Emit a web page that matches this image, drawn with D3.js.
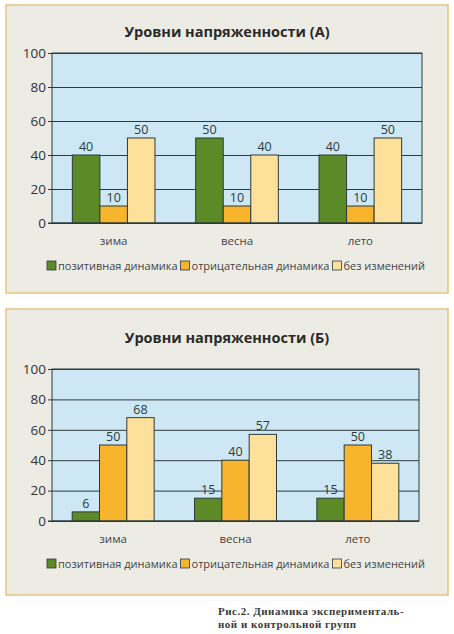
<!DOCTYPE html>
<html>
<head>
<meta charset="utf-8">
<script src="https://cdn.jsdelivr.net/npm/d3@7"></script>
<style>
  body { margin: 0; background: #fff; }
  svg { display: block; }
</style>
</head>
<body>
<div id="chart"></div>
<script>
// Data
const seasons = ["зима", "весна", "лето"];
const seriesNames = ["позитивная динамика", "отрицательная динамика", "без изменений"];
const valuesA = [[40, 10, 50], [50, 10, 40], [40, 10, 50]];
const valuesB = [[6, 50, 68], [15, 40, 57], [15, 50, 38]];
const yTicks = [0, 20, 40, 60, 80, 100];
const titleA = "Уровни напряженности (А)";
const titleB = "Уровни напряженности (Б)";
const captionLines = ["Рис.2. Динамика эксперименталь-", "ной и контрольной групп"];

const colors = ["#5b8a26", "#f7b52e", "#fde19a"];
const font = "'Open Sans', 'Noto Sans', sans-serif";

const svg = d3.select("#chart").append("svg")
    .attr("width", 454)
    .attr("height", 634);

function drawPanel(cfg) {
    const g = svg.append("g");

    // panel frame
    g.append("rect")
        .attr("x", cfg.panel.x).attr("y", cfg.panel.y)
        .attr("width", cfg.panel.w).attr("height", cfg.panel.h)
        .attr("fill", "#edece4")
        .attr("stroke", "#e8c47c")
        .attr("stroke-width", 1.5);

    g.append("text")
        .attr("x", 227).attr("y", cfg.titleY)
        .attr("text-anchor", "middle")
        .style("font-family", font)
        .style("font-size", "14.5px")
        .style("font-weight", "bold")
        .style("fill", "#2a2a2a")
        .text(cfg.title);

    const x0 = d3.scaleBand().domain(seasons).range([cfg.left, cfg.right]).paddingInner(0.33).paddingOuter(0.165);
    const x1 = d3.scaleBand().domain(d3.range(3)).range([0, x0.bandwidth()]);
    const y = d3.scaleLinear().domain([0, 100]).range([cfg.bottom, cfg.top]);

    // plot background
    g.append("rect")
        .attr("x", cfg.left).attr("y", cfg.top)
        .attr("width", cfg.right - cfg.left).attr("height", cfg.bottom - cfg.top)
        .attr("fill", "#cde7f4")
        .attr("stroke", "#2d3a3a")
        .attr("stroke-width", 1);

    // gridlines + y labels
    const yAxis = g.append("g")
        .attr("transform", `translate(${cfg.left},0)`)
        .call(d3.axisLeft(y).tickValues(yTicks).tickSize(-(cfg.right - cfg.left)).tickPadding(6));
    yAxis.select(".domain").remove();
    yAxis.selectAll(".tick line").attr("stroke", "#2d3a3a").attr("stroke-width", 1);
    yAxis.selectAll(".tick text")
        .style("font-family", font)
        .style("font-size", "13.5px")
        .style("fill", "#333");
    // little outside tick marks
    yAxis.selectAll(".tick").append("line")
        .attr("x1", -4).attr("x2", 0)
        .attr("stroke", "#2d3a3a");

    const groups = g.selectAll(".grp")
        .data(cfg.values)
        .enter().append("g")
        .attr("transform", (d, i) => `translate(${x0(seasons[i])},0)`);

    groups.selectAll("rect")
        .data(d => d)
        .enter().append("rect")
        .attr("x", (d, j) => x1(j))
        .attr("y", d => y(d))
        .attr("width", x1.bandwidth())
        .attr("height", d => y(0) - y(d))
        .attr("fill", (d, j) => colors[j])
        .attr("stroke", "#2d3a3a")
        .attr("stroke-width", 1);

    groups.selectAll("text")
        .data(d => d)
        .enter().append("text")
        .attr("x", (d, j) => x1(j) + x1.bandwidth() / 2)
        .attr("y", d => y(d) - 4)
        .attr("text-anchor", "middle")
        .style("font-family", font)
        .style("font-size", "12.5px")
        .style("fill", "#2d3a3a")
        .text(d => d);

    // x axis line (baseline)
    g.append("line")
        .attr("x1", cfg.left - 4).attr("x2", cfg.right)
        .attr("y1", cfg.bottom).attr("y2", cfg.bottom)
        .attr("stroke", "#2d3a3a");

    g.selectAll(".cat")
        .data(seasons)
        .enter().append("text")
        .attr("x", d => x0(d) + x0.bandwidth() / 2)
        .attr("y", cfg.catY)
        .attr("text-anchor", "middle")
        .style("font-family", font)
        .style("font-size", "11.5px")
        .style("fill", "#444")
        .text(d => d);

    // legend
    const leg = g.append("g").attr("transform", `translate(${cfg.legX},${cfg.legY})`);
    let lx = 0;
    seriesNames.forEach((name, j) => {
        leg.append("rect")
            .attr("x", lx).attr("y", -9)
            .attr("width", 9).attr("height", 9)
            .attr("fill", colors[j])
            .attr("stroke", "#2d3a3a")
            .attr("stroke-width", 0.8);
        const t = leg.append("text")
            .attr("x", lx + 11).attr("y", 0)
            .style("font-family", font)
            .style("font-size", "11px")
            .style("fill", "#444")
            .text(name);
        lx += 11 + t.node().getComputedTextLength() + 3;
    });
}

drawPanel({
    panel: { x: 6, y: 5, w: 442, h: 288 },
    title: titleA, titleY: 37,
    left: 52, right: 422, top: 53, bottom: 223,
    values: valuesA, catY: 245, legX: 47, legY: 270
});

drawPanel({
    panel: { x: 6, y: 309, w: 442, h: 286 },
    title: titleB, titleY: 343,
    left: 52, right: 419, top: 369, bottom: 521,
    values: valuesB, catY: 543, legX: 47, legY: 568
});

// caption
const cap = svg.append("text")
    .attr("x", 218).attr("y", 615)
    .style("font-family", "'Liberation Serif', 'DejaVu Serif', serif")
    .style("font-size", "11px")
    .style("font-weight", "bold")
    .style("letter-spacing", "0.5px")
    .style("fill", "#3a3a3a");
captionLines.forEach((line, i) => {
    cap.append("tspan").attr("x", 218).attr("dy", i === 0 ? 0 : 12.5).text(line);
});
</script>
</body>
</html>
